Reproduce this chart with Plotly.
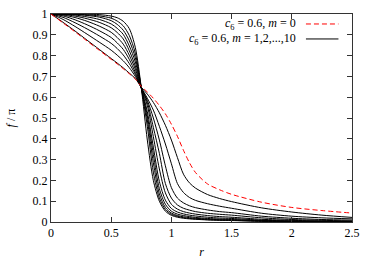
import plotly.graph_objects as go

r = [0, 0.1, 0.2, 0.3, 0.4, 0.5, 0.55, 0.6, 0.65, 0.7, 0.75, 0.8, 0.85, 0.9, 0.95,
     1.0, 1.05, 1.1, 1.15, 1.2, 1.3, 1.4, 1.5, 1.75, 2.0, 2.25, 2.5]

f_m0 = [1, 0.957, 0.914, 0.87, 0.826, 0.782, 0.76, 0.737, 0.713, 0.688, 0.652, 0.625,
        0.595, 0.56, 0.52, 0.47, 0.412, 0.345, 0.285, 0.238, 0.183, 0.155, 0.133,
        0.095, 0.07, 0.055, 0.043]

f_m1 = [1, 0.96, 0.918, 0.874, 0.83, 0.786, 0.764, 0.741, 0.716, 0.69, 0.648, 0.615,
        0.575, 0.525, 0.465, 0.394, 0.31, 0.23, 0.188, 0.163, 0.132, 0.113, 0.098,
        0.068, 0.048, 0.033, 0.022]
f_m2 = [1, 0.974, 0.94, 0.903, 0.865, 0.826, 0.802, 0.775, 0.742, 0.70, 0.646, 0.595,
        0.538, 0.46, 0.375, 0.28, 0.185, 0.142, 0.118, 0.104, 0.088, 0.076, 0.066,
        0.042, 0.028, 0.02, 0.015]
f_m3 = [1, 0.984, 0.958, 0.928, 0.895, 0.859, 0.834, 0.803, 0.762, 0.71, 0.645, 0.585,
        0.50, 0.394, 0.27, 0.165, 0.115, 0.092, 0.078, 0.069, 0.058, 0.05, 0.045,
        0.028, 0.018, 0.012, 0.009]
f_m4 = [1, 0.991, 0.972, 0.948, 0.92, 0.887, 0.861, 0.83, 0.782, 0.72, 0.645, 0.575,
        0.455, 0.33, 0.185, 0.115, 0.082, 0.066, 0.057, 0.05, 0.042, 0.037, 0.033,
        0.02, 0.012, 0.008, 0.005]
f_m5 = [1, 0.995, 0.983, 0.965, 0.942, 0.912, 0.887, 0.855, 0.802, 0.735, 0.645, 0.56,
        0.41, 0.255, 0.14, 0.085, 0.062, 0.05, 0.043, 0.038, 0.031, 0.026, 0.023,
        0.013, 0.008, 0.005, 0.003]
f_m6 = [1, 0.998, 0.99, 0.977, 0.96, 0.934, 0.911, 0.88, 0.824, 0.75, 0.645, 0.53,
        0.36, 0.195, 0.105, 0.065, 0.048, 0.039, 0.033, 0.029, 0.023, 0.019, 0.017,
        0.009, 0.005, 0.003, 0.002]
f_m7 = [1, 0.999, 0.995, 0.986, 0.974, 0.952, 0.931, 0.902, 0.847, 0.77, 0.645, 0.51,
        0.325, 0.16, 0.085, 0.052, 0.038, 0.031, 0.026, 0.022, 0.017, 0.014, 0.012,
        0.007, 0.004, 0.002, 0.002]
f_m8 = [1, 1.0, 0.998, 0.993, 0.985, 0.968, 0.95, 0.922, 0.872, 0.79, 0.645, 0.49,
        0.285, 0.135, 0.07, 0.043, 0.031, 0.025, 0.021, 0.018, 0.014, 0.011, 0.01,
        0.005, 0.003, 0.002, 0.001]
f_m9 = [1, 1.0, 0.999, 0.996, 0.991, 0.98, 0.966, 0.943, 0.897, 0.812, 0.645, 0.46,
        0.24, 0.115, 0.06, 0.037, 0.027, 0.021, 0.017, 0.015, 0.011, 0.009, 0.008,
        0.004, 0.002, 0.001, 0.001]
f_m10 = [1, 1.0, 1.0, 0.999, 0.997, 0.99, 0.982, 0.965, 0.93, 0.84, 0.645, 0.394,
         0.20, 0.10, 0.052, 0.032, 0.023, 0.018, 0.015, 0.013, 0.01, 0.008, 0.007,
         0.003, 0.002, 0.001, 0.001]

black_series = [f_m1, f_m2, f_m3, f_m4, f_m5, f_m6, f_m7, f_m8, f_m9, f_m10]

x_ticks = [0, 0.5, 1, 1.5, 2, 2.5]
x_ticklabels = ["0", "0.5", "1", "1.5", "2", "2.5"]
y_ticks = [0, 0.1, 0.2, 0.3, 0.4, 0.5, 0.6, 0.7, 0.8, 0.9, 1]
y_ticklabels = ["0", "0.1", "0.2", "0.3", "0.4", "0.5", "0.6", "0.7", "0.8", "0.9", "1"]

legend_labels = ["<i>c</i><sub>6</sub> = 0.6, <i>m</i> = 0",
                 "<i>c</i><sub>6</sub> = 0.6, <i>m</i> = 1,2,...,10"]

FONT = "Times New Roman, Liberation Serif, serif"

fig = go.Figure()
for i, ys in enumerate(black_series):
    fig.add_trace(go.Scatter(x=r, y=ys, mode="lines", name=f"m = {i+1}",
                             line=dict(color="black", width=1, shape="spline", smoothing=0.8),
                             showlegend=False, hoverinfo="skip"))
fig.add_trace(go.Scatter(x=r, y=f_m0, mode="lines", name="m = 0",
                         line=dict(color="#ff0000", width=1, dash="5px,3px",
                                   shape="spline", smoothing=0.8),
                         showlegend=False, hoverinfo="skip"))

axis_common = dict(showline=True, linecolor="#333333", linewidth=1, mirror="ticks",
                   ticks="inside", ticklen=5, tickcolor="#333333", tickwidth=1,
                   showgrid=False, zeroline=False, automargin=False,
                   tickfont=dict(family=FONT, size=12, color="black"))

fig.update_layout(
    width=374, height=261,
    margin=dict(l=51, r=22, t=14, b=39, autoexpand=False),
    paper_bgcolor="white", plot_bgcolor="white",
    font=dict(family=FONT, size=12, color="black"),
    xaxis=dict(range=[0, 2.5], tickvals=x_ticks, ticktext=x_ticklabels,
               title=dict(text="<i>r</i>", standoff=8, font=dict(family=FONT, size=12)),
               **axis_common),
    yaxis=dict(range=[0, 1], tickvals=y_ticks, ticktext=y_ticklabels,
               title=dict(text="<i>f</i> / π", standoff=14, font=dict(family=FONT, size=12)),
               **axis_common),
    showlegend=False,
)

# legend drawn as text + sample lines (text on the left, sample on the right)
legend_rows = [(legend_labels[0], "#ff0000", "5px,3px", 0.952),
               (legend_labels[1], "black", "solid", 0.88)]
for text, color, dash, yp in legend_rows:
    fig.add_annotation(xref="paper", yref="paper", x=0.822, y=yp, xanchor="right",
                       yanchor="middle", text=text, showarrow=False,
                       font=dict(family=FONT, size=12, color="black"))
    fig.add_shape(type="line", xref="paper", yref="paper", x0=0.847, x1=0.955,
                  y0=yp, y1=yp, line=dict(color=color, width=1, dash=dash))

fig.write_html("out.html", config={"displayModeBar": False, "staticPlot": True},
               post_script="document.body.style.margin='0';document.body.style.overflow='hidden';")
